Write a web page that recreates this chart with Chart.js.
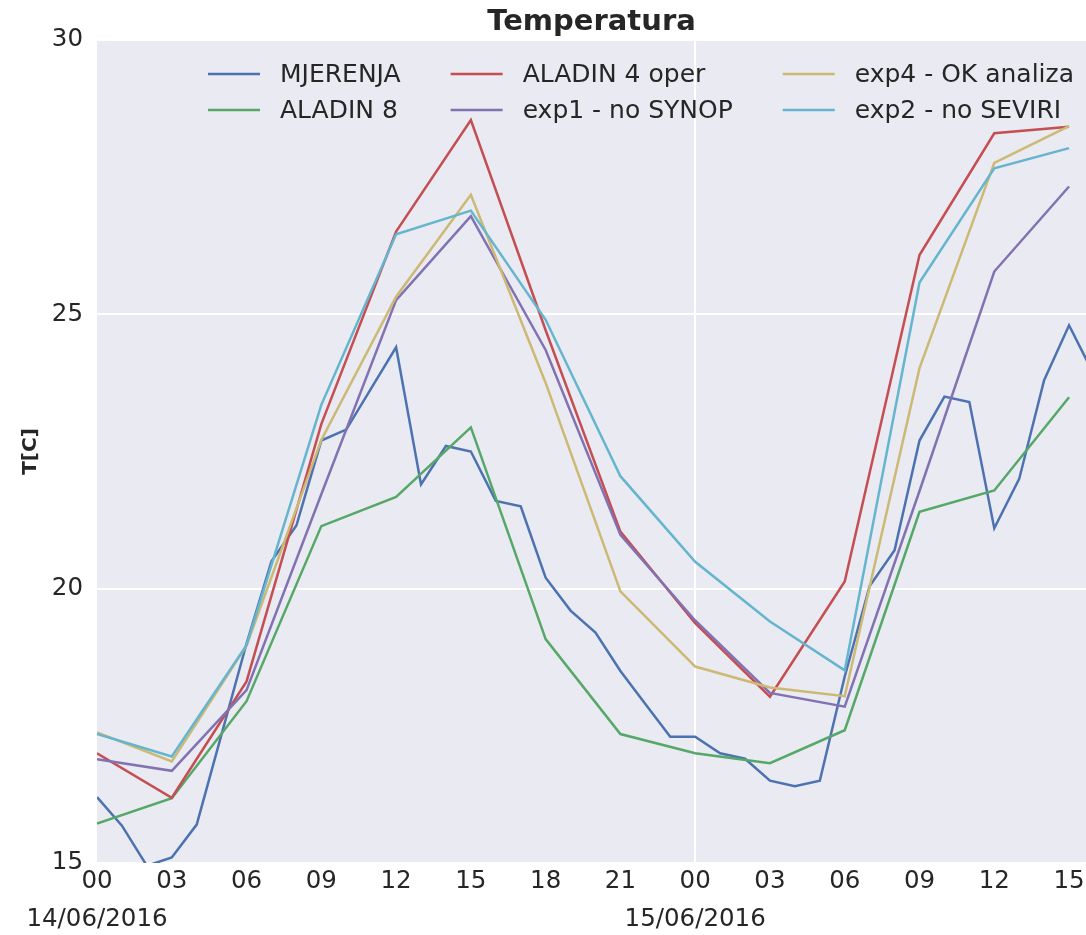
<!DOCTYPE html>
<html lang="hr">
<head>
  <meta charset="UTF-8" />
  <title>Temperatura</title>
  <style>
    *, html {
      margin: 0;
      padding: 0;
      box-sizing: border-box;
    }

    body {
      background: #ffffff;
    }

    .okvir {
      width: 1086px;
      height: 935px;
      position: relative;
    }
  </style>
</head>
<body>
  <div class="okvir">
    <canvas id="grafTemp"></canvas>
  </div>

  <script src="https://cdn.jsdelivr.net/npm/chart.js"></script>
  <script>
    // sati od 14/06/2016 00h
    const satiMjerenja = [0, 1, 2, 3, 4, 5, 6, 7, 8, 9, 10, 11, 12, 13, 14, 15, 16, 17, 18, 19, 20,
      21, 22, 23, 24, 25, 26, 27, 28, 29, 30, 31, 32, 33, 34, 35, 36, 37, 38, 39, 40];
    const mjerenja = [16.2, 15.68, 14.95, 15.1, 15.7, 17.35, 19.0, 20.5, 21.15, 22.7, 22.9, 23.65, 24.4,
      21.9, 22.6, 22.5, 21.6, 21.5, 20.2, 19.6, 19.2, 18.5, 17.9, 17.3, 17.3, 17.0, 16.9, 16.5, 16.4,
      16.5, 18.4, 20.05, 20.7, 22.7, 23.5, 23.4, 21.1, 22.0, 23.8, 24.8, 23.9];

    const satiModel = [0, 3, 6, 9, 12, 15, 18, 21, 24, 27, 30, 33, 36, 39];
    const aladin8 = [15.72, 16.18, 17.95, 21.14, 21.67, 22.94, 19.08, 17.35, 17.0, 16.82, 17.42, 21.4, 21.79, 23.49];
    const aladin4 = [17.0, 16.19, 18.31, 23.0, 26.51, 28.54, 24.71, 21.04, 19.37, 18.03, 20.13, 26.08, 28.3, 28.42];
    const exp1 = [16.89, 16.68, 18.15, 21.72, 25.26, 26.79, 24.35, 20.98, 19.42, 18.1, 17.85, 21.78, 25.78, 27.33];
    const exp4 = [17.38, 16.85, 18.96, 22.71, 25.32, 27.18, 23.75, 19.95, 18.58, 18.2, 18.04, 24.02, 27.76, 28.43];
    const exp2 = [17.35, 16.94, 18.97, 23.35, 26.46, 26.89, 24.9, 22.05, 20.49, 19.4, 18.51, 25.58, 27.66, 28.03];

    const nazivi = ["MJERENJA", "ALADIN 8", "ALADIN 4 oper", "exp1 - no SYNOP", "exp4 - OK analiza", "exp2 - no SEVIRI"];
    const boje = ["#4C72B0", "#55A868", "#C44E52", "#8172B2", "#CCB974", "#64B5CD"];
    const datumi = { 0: "14/06/2016", 24: "15/06/2016" };

    const FONT = "'DejaVu Sans', 'Liberation Sans', sans-serif";
    const TEKST = "#262626";

    function tocke(xs, ys) {
      return xs.map((x, i) => ({ x: x, y: ys[i] }));
    }

    const serije = [
      tocke(satiMjerenja, mjerenja),
      tocke(satiModel, aladin8),
      tocke(satiModel, aladin4),
      tocke(satiModel, exp1),
      tocke(satiModel, exp4),
      tocke(satiModel, exp2)
    ];

    // pozadina kao seaborn darkgrid
    const pozadina = {
      id: "pozadina",
      beforeDraw(chart) {
        const { ctx, chartArea: a } = chart;
        ctx.save();
        ctx.fillStyle = "#EAEAF2";
        ctx.fillRect(a.left, a.top, a.right - a.left, a.bottom - a.top);
        ctx.restore();
      }
    };

    // naslov iznad podrucja grafa
    const naslov = {
      id: "naslov",
      afterDraw(chart) {
        const { ctx, chartArea: a } = chart;
        ctx.save();
        ctx.font = "bold 29px " + FONT;
        ctx.fillStyle = TEKST;
        ctx.textAlign = "center";
        ctx.textBaseline = "middle";
        ctx.fillText("Temperatura", (a.left + a.right) / 2, 22);
        ctx.restore();
      }
    };

    // legenda u 3 stupca, puni se po stupcima
    const legenda = {
      id: "legenda",
      afterDatasetsDraw(chart) {
        const { ctx, chartArea: a } = chart;
        const skupovi = chart.data.datasets;
        ctx.save();
        ctx.font = "25px " + FONT;
        ctx.textBaseline = "middle";
        let x = a.left + 111;
        for (let s = 0; s < 3; s++) {
          const par = [skupovi[s * 2], skupovi[s * 2 + 1]];
          let sirina = 0;
          par.forEach((d, r) => {
            const y = a.top + 34 + r * 36;
            ctx.strokeStyle = d.borderColor;
            ctx.lineWidth = 2.5;
            ctx.beginPath();
            ctx.moveTo(x, y);
            ctx.lineTo(x + 52, y);
            ctx.stroke();
            ctx.fillStyle = TEKST;
            ctx.fillText(d.label, x + 72, y + 1);
            sirina = Math.max(sirina, ctx.measureText(d.label).width);
          });
          x += 72 + sirina + 50;
        }
        ctx.restore();
      }
    };

    new Chart(document.getElementById("grafTemp"), {
      type: "line",
      data: {
        datasets: serije.map((p, i) => ({
          label: nazivi[i],
          data: p,
          borderColor: boje[i],
          backgroundColor: boje[i],
          borderWidth: 2.5,
          pointRadius: 0,
          tension: 0,
          clip: 0,
          order: serije.length - i
        }))
      },
      options: {
        responsive: true,
        maintainAspectRatio: false,
        animation: false,
        layout: { padding: { top: 40, left: 0, right: 0, bottom: 0 } },
        plugins: {
          legend: { display: false },
          tooltip: { enabled: false }
        },
        scales: {
          x: {
            type: "linear",
            min: 0,
            max: 39.68,
            afterFit(s) { s.height = 72; },
            border: { display: false },
            grid: {
              drawTicks: false,
              lineWidth: 2,
              color: (c) => (c.tick && c.tick.value === 24 ? "#ffffff" : "rgba(0,0,0,0)")
            },
            ticks: {
              stepSize: 3,
              includeBounds: false,
              autoSkip: false,
              maxRotation: 0,
              padding: 0,
              color: TEKST,
              font: { family: FONT, size: 24.5, lineHeight: 1.55 },
              callback: (v) => [String(v % 24).padStart(2, "0"), datumi[v] || ""]
            }
          },
          y: {
            min: 15,
            max: 30,
            afterFit(s) { s.width = 97; },
            border: { display: false },
            grid: { drawTicks: false, lineWidth: 2, color: "#ffffff" },
            ticks: {
              stepSize: 5,
              padding: 14,
              color: TEKST,
              font: { family: FONT, size: 24.5 }
            },
            title: {
              display: true,
              text: "T[C]",
              color: TEKST,
              font: { family: FONT, size: 20, weight: "bold" },
              padding: { top: 19, bottom: 0 }
            }
          }
        }
      },
      plugins: [pozadina, naslov, legenda]
    });
  </script>
</body>
</html>
